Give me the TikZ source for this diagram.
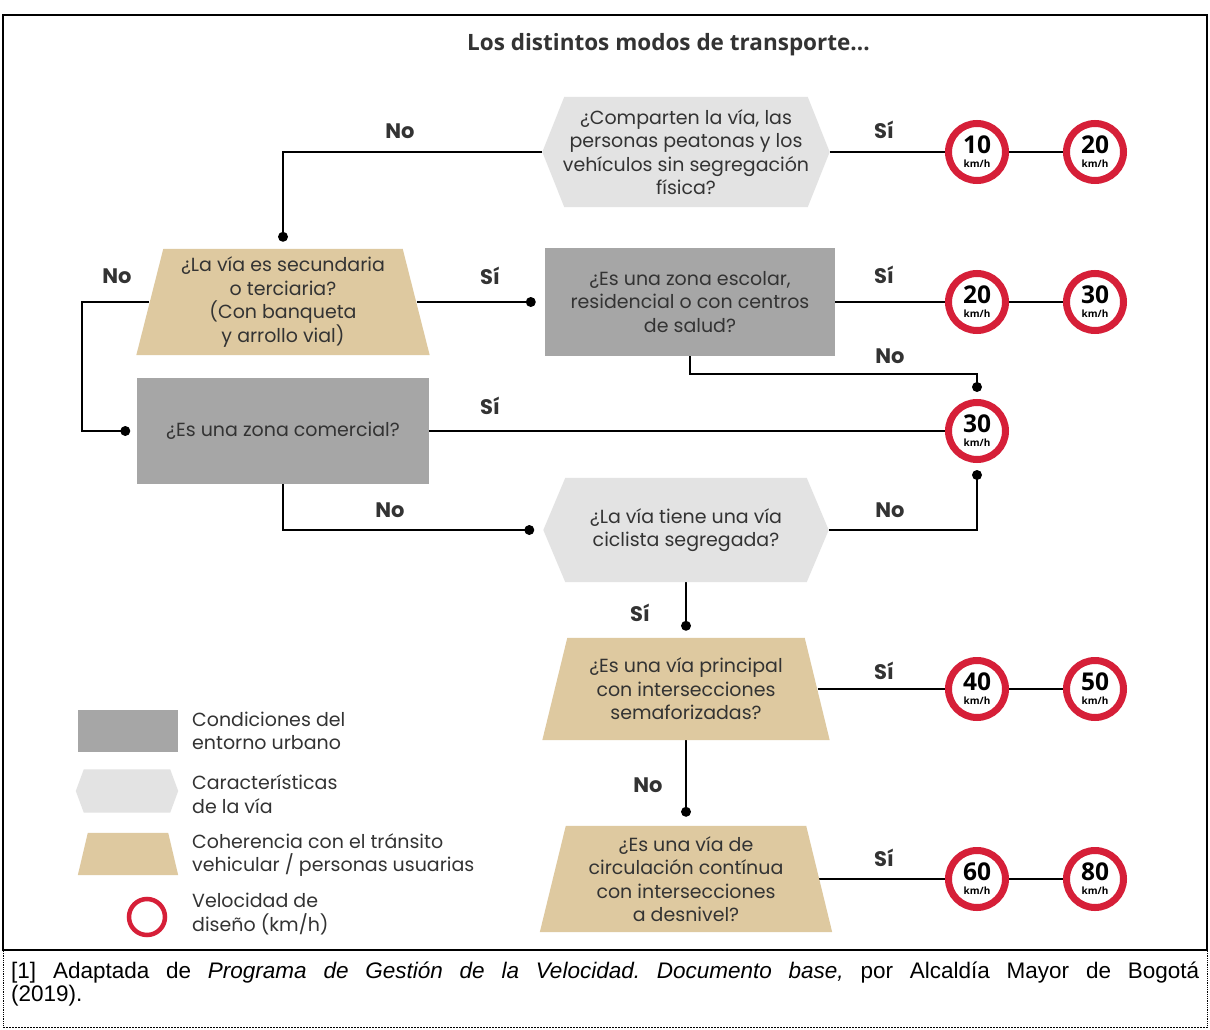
\documentclass[tikz,border=0pt]{standalone}
\usepackage{fontspec}
\setmainfont{Poppins}
\newfontfamily\titlefont{Open Sans}
\newfontfamily\signfont{Open Sans}
\newfontfamily\footfont{Liberation Sans}
\usetikzlibrary{calc}
\definecolor{tanc}{RGB}{222,201,160}
\definecolor{dgray}{RGB}{166,166,166}
\definecolor{lgray}{RGB}{227,227,227}
\definecolor{redc}{RGB}{214,31,56}
\definecolor{txt}{RGB}{51,51,51}
\pgfdeclarelayer{bg}\pgfdeclarelayer{shp}\pgfsetlayers{bg,shp,main}
\newcommand\trapfill[3]{\begin{pgfonlayer}{shp}\fill[#3] ($(#1.north west)+(#2,0)$) -- ($(#1.north east)+(-#2,0)$) -- (#1.south east) -- (#1.south west) -- cycle;\end{pgfonlayer}}
\newcommand\hexfill[3]{\begin{pgfonlayer}{shp}\fill[#3] ($(#1.north west)+(#2,0)$) -- ($(#1.north east)+(-#2,0)$) -- (#1.east) -- ($(#1.south east)+(-#2,0)$) -- ($(#1.south west)+(#2,0)$) -- (#1.west) -- cycle;\end{pgfonlayer}}
\newcommand\rectfill[2]{\begin{pgfonlayer}{shp}\fill[#2] (#1.north west) rectangle (#1.south east);\end{pgfonlayer}}
\newcommand\spdtxt[1]{{\fontsize{24.5}{12}\selectfont #1}\\[2pt]km/h}
\frenchspacing
\begin{document}
\begin{tikzpicture}[x=1pt,y=-1pt,
  qbox/.style={inner sep=0pt, align=center, text=txt, font=\fontsize{19}{23.5}\selectfont},
  lbl/.style={inner sep=0pt, text=txt, font=\fontsize{21}{21}\selectfont\bfseries},
  legtxt/.style={inner sep=0pt, anchor=west, align=left, text=txt, font=\fontsize{19}{23.5}\selectfont},
  spd/.style={circle, draw=redc, line width=7pt, fill=white, minimum size=57pt, inner sep=0pt, align=center, text=black, font=\signfont\bfseries\fontsize{10}{12}\selectfont},
  conn/.style={draw=black, line width=2.2pt}]
\useasboundingbox (0,0) rectangle (1210,1030);
\begin{pgfonlayer}{bg}
\fill[white] (0,0) rectangle (1210,1030);
\end{pgfonlayer}
% frames
\draw[line width=2pt] (3,15) rectangle (1207,950);
\draw[line width=0.8pt, densely dotted] (3,951) -- (3,1027);
\draw[line width=0.8pt, densely dotted] (1207,951) -- (1207,1027);
\draw[line width=0.8pt, dash pattern=on 2pt off 1pt] (3,1027) -- (1207,1027);
% title
\node[anchor=west, inner sep=0pt, text=txt, font=\titlefont\fontsize{22.5}{22.5}\selectfont\bfseries] (title) at (467,45) {Los distintos modos de transporte...};
% question nodes
\node[qbox, minimum width=287, minimum height=110] (h1) at (686,152) {¿Comparten la vía, las\\personas peatonas y los\\vehículos sin segregación\\física?};
\node[qbox, minimum width=293, minimum height=106] (t1) at (283,302) {¿La vía es secundaria\\o terciaria?\\(Con banqueta\\y arrollo vial)};
\node[qbox, minimum width=290, minimum height=107] (g1) at (690,302) {¿Es una zona escolar,\\residencial o con centros\\de salud?};
\node[qbox, minimum width=291, minimum height=106] (g2) at (283,431) {¿Es una zona comercial?};
\node[qbox, minimum width=285, minimum height=104] (h2) at (686,530) {¿La vía tiene una vía\\ciclista segregada?};
\node[qbox, minimum width=287, minimum height=102] (t2) at (686,689) {¿Es una vía principal\\con intersecciones\\semaforizadas?};
\node[qbox, minimum width=292, minimum height=106] (t3) at (686,879) {¿Es una vía de\\circulación contínua\\con intersecciones\\a desnivel?};
\hexfill{h1}{22}{lgray}
\trapfill{t1}{27}{tanc}
\rectfill{g1}{dgray}
\rectfill{g2}{dgray}
\hexfill{h2}{22}{lgray}
\trapfill{t2}{25}{tanc}
\trapfill{t3}{26}{tanc}
% speed signs
\node[spd] (s10) at (977,152) {\spdtxt{10}};
\node[spd] (s20a) at (1095,152) {\spdtxt{20}};
\node[spd] (s20b) at (977,302) {\spdtxt{20}};
\node[spd] (s30a) at (1095,302) {\spdtxt{30}};
\node[spd] (s30) at (977,431) {\spdtxt{30}};
\node[spd] (s40) at (977,689) {\spdtxt{40}};
\node[spd] (s50) at (1095,689) {\spdtxt{50}};
\node[spd] (s60) at (977,879) {\spdtxt{60}};
\node[spd] (s80) at (1095,879) {\spdtxt{80}};
% dot coordinates
\coordinate (dA) at ($(t1.north)+(0,-12)$);
\coordinate (dB) at ($(g1.west)+(-14,0)$);
\coordinate (dC) at ($(s30.north)+(0,-12)$);
\coordinate (dD) at ($(g2.west)+(-12,0)$);
\coordinate (dE) at ($(h2.west)+(-14,0)$);
\coordinate (dF) at ($(s30.south)+(0,12)$);
\coordinate (dG) at ($(t2.north)+(0,-12)$);
\coordinate (dH) at ($(t3.north)+(0,-14)$);
% connectors
\begin{pgfonlayer}{bg}
\draw[conn] (h1.west) -| (dA);
\draw[conn] (h1.east) -- (s10) -- (s20a);
\draw[conn] ($(t1.east)+(-13,0)$) -- (dB);
\draw[conn] (g1.east) -- (s20b) -- (s30a);
\draw[conn] (g1.south) -- ++(0,18) -| (dC);
\draw[conn] ($(t1.west)+(13,0)$) -- ++(-67,0) |- (dD);
\draw[conn] (g2.east) -- (s30);
\draw[conn] (g2.south) |- (dE);
\draw[conn] (h2.east) -| (dF);
\draw[conn] (h2.south) -- (dG);
\draw[conn] ($(t2.east)+(-12,0)$) -- (s40) -- (s50);
\draw[conn] (t2.south) -- (dH);
\draw[conn] ($(t3.east)+(-13,0)$) -- (s60) -- (s80);
\end{pgfonlayer}
\foreach \d in {dA,dB,dC,dD,dE,dF,dG,dH} \fill[black] (\d) circle (5pt);
% labels
\node[lbl] (l1) at (400,131) {No};
\node[lbl] (l2) at (884,130) {Sí};
\node[lbl] (l3) at (117,276) {No};
\node[lbl] (l4) at (490,276) {Sí};
\node[lbl] (l5) at (884,275) {Sí};
\node[lbl] (l6) at (890,356) {No};
\node[lbl] (l7) at (490,406) {Sí};
\node[lbl] (l8) at (390,510) {No};
\node[lbl] (l9) at (890,510) {No};
\node[lbl] (l10) at (640,613) {Sí};
\node[lbl] (l11) at (884,671) {Sí};
\node[lbl] (l12) at (648,785) {No};
\node[lbl] (l13) at (884,858) {Sí};
% legend
\node[inner sep=0pt, minimum width=100, minimum height=42] (lg1) at (128,731) {};
\node[inner sep=0pt, minimum width=102, minimum height=43] (lg2) at (127,791) {};
\node[inner sep=0pt, minimum width=100, minimum height=42] (lg3) at (128,854) {};
\rectfill{lg1}{dgray}
\hexfill{lg2}{8}{lgray}
\trapfill{lg3}{10}{tanc}
\node[circle, draw=redc, line width=4.5pt, minimum size=36pt, inner sep=0pt] (lg4) at (147,917) {};
\node[legtxt] (lt1) at (192,731) {Condiciones del\\entorno urbano};
\node[legtxt] (lt2) at (192,794) {Características\\de la vía};
\node[legtxt] (lt3) at (192,855) {Coherencia con el tránsito\\vehicular / personas usuarias};
\node[legtxt] (lt4) at (192,914) {Velocidad de\\diseño (km/h)};
% footer
\node[anchor=north west, inner sep=0pt, text width=1188pt, align=justify, font=\footfont\fontsize{22.5}{23}\selectfont] (foot) at (11,962) {[1] Adaptada de \textit{Programa de Gestión de la Velocidad. Documento base,} por Alcaldía Mayor de Bogotá\linebreak (2019).};
\end{tikzpicture}
\end{document}
